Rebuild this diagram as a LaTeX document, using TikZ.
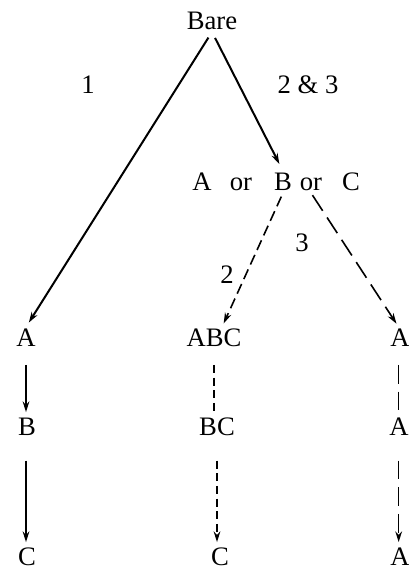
\documentclass[tikz,border=0pt]{standalone}
\usepackage{fontspec}
\setmainfont{Liberation Serif}
\usepackage{tikz}
\usetikzlibrary{arrows.meta,calc}
\tikzset{
  letter/.style={inner sep=1.5pt, text height=13pt, text depth=0pt, font=\fontsize{20}{22}\selectfont},
  numlabel/.style={inner sep=1pt, font=\fontsize{20}{22}\selectfont},
  solidarrow/.style={-{Stealth[length=8pt,width=5pt]}, line width=1.5pt},
  colarrow/.style={-{Stealth[length=8pt,width=5pt]}, line width=1.1pt},
  shortdash/.style={line width=1.1pt, dash pattern=on 6pt off 3.5pt},
  middash/.style={line width=1.2pt, dash pattern=on 8pt off 4pt},
  longdash/.style={line width=1.2pt, dash pattern=on 14pt off 6pt},
  tipped/.style={-{Stealth[length=8pt,width=5pt]}},
}

\begin{document}
\begin{tikzpicture}[x=0.75pt,y=-0.75pt]
\path[use as bounding box] (0,0) rectangle (409,571);

% top
\node[letter] (bare) at (212,21) {Bare};
\node[numlabel] (one) at (88,85) {1};
\node[numlabel] (twothree) at (308,85) {2 \& 3};

% choice row
\node[letter] (oa) at (202,182) {A};
\node[letter] (or1) at (241,182) {or};
\node[letter] (ob) at (283,182) {B};
\node[letter] (or2) at (311,182) {or};
\node[letter] (oc) at (351,182) {C};
\node[numlabel] (three) at (302,243) {3};
\node[numlabel] (two) at (227,275) {2};

% three columns
\node[letter] (a1) at (26,338) {A};
\node[letter] (b1) at (27,427) {B};
\node[letter] (c1) at (27,557) {C};
\node[letter] (abc) at (214,338) {ABC};
\node[letter] (bc) at (217,427) {BC};
\node[letter] (c2) at (220,557) {C};
\node[letter] (a2) at (400,338) {A};
\node[letter] (a3) at (399,427) {A};
\node[letter] (a4) at (400,557) {A};

% branches
\draw[solidarrow,shorten <=5pt,shorten >=4pt] (bare.south) -- (a1.north);
\draw[solidarrow,shorten <=5pt,shorten >=6pt] (bare.south) -- (ob.north);
\draw[middash,tipped,shorten <=3pt,shorten >=3pt] (ob.south) -- ([xshift=6pt]abc.north);
\draw[longdash,tipped,shorten <=2pt,shorten >=3pt] (or2.south) -- ([xshift=-1pt]a2.north);

% columns
\draw[colarrow,shorten <=12pt,shorten >=3pt] (a1.south) -- (a1.south |- b1.north);
\draw[colarrow,shorten <=17pt,shorten >=3pt] (a1.south |- b1.south) -- (a1.south |- c1.north);
\draw[shortdash,shorten <=12pt,shorten >=3pt] (abc.south) -- (abc.south |- bc.north);
\draw[shortdash,tipped,shorten <=17pt,shorten >=3pt] (bc.south) -- (bc.south |- c2.north);
\draw[longdash,shorten <=12pt,shorten >=3pt] ([xshift=-1pt]a2.south) -- ([xshift=-1pt]a2.south |- a3.north);
\draw[longdash,tipped,shorten <=17pt,shorten >=3pt] ([xshift=-1pt]a2.south |- a3.south) -- ([xshift=-1pt]a2.south |- a4.north);
\end{tikzpicture}
\end{document}
